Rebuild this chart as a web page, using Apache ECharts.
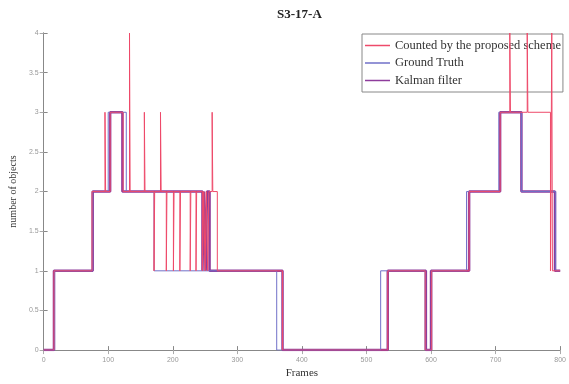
<!DOCTYPE html>
<html>
<head>
<meta charset="utf-8">
<script src="https://cdn.jsdelivr.net/npm/echarts@6/dist/echarts.min.js"></script>
<style>
html, body { margin: 0; padding: 0; background: #fff; }
#main { width: 569px; height: 384px; }
</style>
</head>
<body>
<div id="main"></div>
<script>
// step points: value holds from frame until the next frame
var countedFrames = [0, 16, 75, 95, 96, 103, 123, 133, 134, 156, 157, 171, 172, 181, 182, 190, 191, 201, 202, 211, 212, 227, 228, 236, 237, 246, 248, 250, 252, 254, 256, 261, 262, 269, 370, 533, 591, 601, 659, 707, 722, 723, 749, 750, 785, 787, 788, 800];
var countedValues = [0, 1, 2, 3, 2, 3, 2, 4, 2, 3, 2, 1, 2, 3, 2, 1, 2, 1, 2, 1, 2, 1, 2, 1, 2, 1, 2, 1, 2, 1, 2, 3, 2, 1, 0, 1, 0, 1, 2, 3, 4, 3, 4, 3, 1, 4, 1, 1];

var truthFrames = [0, 17, 76, 100, 128, 171, 361, 522, 591, 601, 655, 705, 740, 793, 800];
var truthValues = [0, 1, 2, 3, 2, 1, 0, 1, 0, 1, 2, 3, 2, 1, 1];

var kalmanFrames = [0, 16, 76, 103, 122, 246, 248, 251, 253, 257, 370, 533, 592, 600, 659, 707, 740, 792, 800];
var kalmanValues = [0, 1, 2, 3, 2, 1, 2, 1, 2, 1, 0, 1, 0, 1, 2, 3, 2, 1, 1];

var legendNames = ['Counted by the proposed scheme', 'Ground Truth', 'Kalman filter'];

function pairs(xs, ys) {
    var out = [];
    for (var i = 0; i < xs.length; i++) {
        out.push([xs[i], ys[i]]);
    }
    return out;
}

var serif = 'Liberation Serif';
var chart = echarts.init(document.getElementById('main'), null, {renderer: 'canvas'});

var option = {
    backgroundColor: '#fff',
    animation: false,
    title: {
        text: 'S3-17-A',
        left: 272,
        top: 3,
        textStyle: {fontFamily: serif, fontWeight: 'bold', fontSize: 13, color: '#222'}
    },
    legend: {
        data: legendNames,
        orient: 'vertical',
        left: 362,
        top: 34,
        padding: [5, 2, 5, 3],
        icon: 'rect',
        itemWidth: 25,
        itemHeight: 1.5,
        itemGap: 4.5,
        backgroundColor: '#fff',
        borderColor: '#888',
        borderWidth: 1,
        textStyle: {fontFamily: serif, fontSize: 12.5, color: '#333'}
    },
    grid: {left: 37, right: 3, top: 33, bottom: 24},
    xAxis: [{
        type: 'value',
        min: 0,
        max: 800,
        interval: 100,
        name: 'Frames',
        nameLocation: 'middle',
        nameGap: 15,
        nameTextStyle: {fontFamily: serif, fontSize: 11, color: '#333'},
        axisLine: {lineStyle: {color: '#888'}},
        axisTick: {inside: true, length: 4, lineStyle: {color: '#888'}},
        axisLabel: {fontSize: 7, color: '#999', margin: 6},
        splitLine: {show: false}
    }, {
        type: 'value',
        position: 'top',
        min: 0,
        max: 800,
        interval: 100,
        axisLine: {show: true, lineStyle: {color: '#888'}},
        axisTick: {inside: true, length: 4, lineStyle: {color: '#aaa'}},
        axisLabel: {show: false},
        splitLine: {show: false}
    }],
    yAxis: [{
        type: 'value',
        min: 0,
        max: 4,
        interval: 0.5,
        name: 'number of objects',
        nameLocation: 'middle',
        nameGap: 21,
        nameTextStyle: {fontFamily: serif, fontSize: 10, color: '#333'},
        axisLine: {show: true, lineStyle: {color: '#888'}},
        axisTick: {show: true, inside: true, length: 4, lineStyle: {color: '#888'}},
        axisLabel: {fontSize: 7, color: '#999', margin: 5},
        splitLine: {show: false}
    }, {
        type: 'value',
        position: 'right',
        min: 0,
        max: 4,
        interval: 0.5,
        axisLine: {show: true, lineStyle: {color: '#888'}},
        axisTick: {show: true, inside: true, length: 4, lineStyle: {color: '#aaa'}},
        axisLabel: {show: false},
        splitLine: {show: false}
    }],
    series: [{
        name: 'Kalman filter',
        type: 'line',
        step: 'end',
        symbol: 'none',
        color: '#8e3c9c',
        lineStyle: {width: 2.5, color: '#8e3c9c'},
        data: pairs(kalmanFrames, kalmanValues),
        z: 2
    }, {
        name: 'Ground Truth',
        type: 'line',
        step: 'end',
        symbol: 'none',
        color: '#7070c8',
        lineStyle: {width: 1, color: '#7070c8'},
        data: pairs(truthFrames, truthValues),
        z: 3
    }, {
        name: 'Counted by the proposed scheme',
        type: 'line',
        step: 'end',
        symbol: 'none',
        color: '#ee4a6a',
        lineStyle: {width: 1, color: '#ee4a6a'},
        data: pairs(countedFrames, countedValues),
        z: 4
    }]
};

chart.setOption(option);
</script>
</body>
</html>
